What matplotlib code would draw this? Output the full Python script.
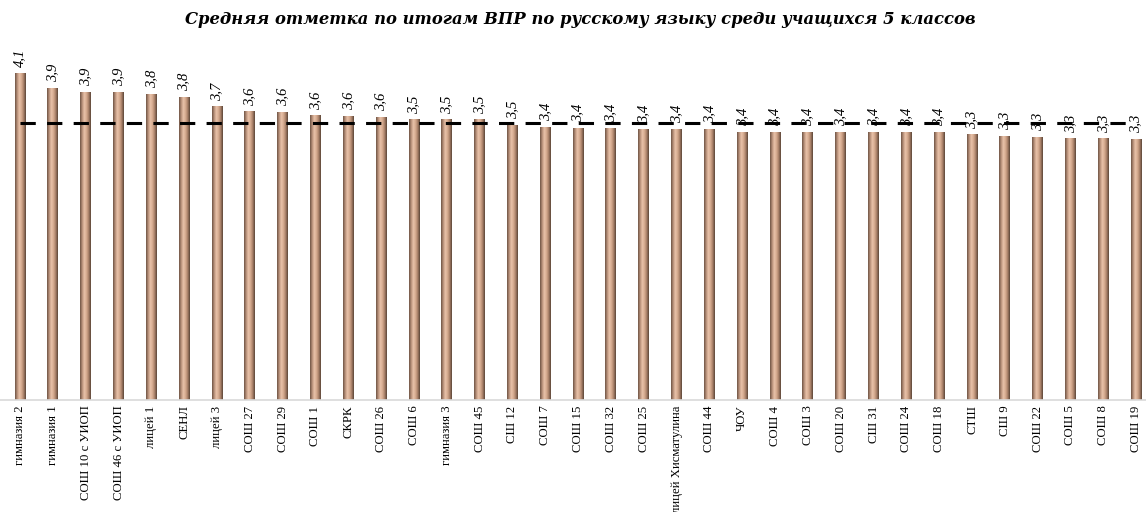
import numpy as np
import matplotlib
matplotlib.use("Agg")
from matplotlib import pyplot as plt
from matplotlib.colors import LinearSegmentedColormap

schools = ["гимназия 2", "гимназия 1", "СОШ 10 с УИОП", "СОШ 46 с УИОП", "лицей 1", "СЕНЛ",
           "лицей 3", "СОШ 27", "СОШ 29", "СОШ 1", "СКРК", "СОШ 26", "СОШ 6", "гимназия 3",
           "СОШ 45", "СШ 12", "СОШ 7", "СОШ 15", "СОШ 32", "СОШ 25", "лицей Хисматулина",
           "СОШ 44", "ЧОУ", "СОШ 4", "СОШ 3", "СОШ 20", "СШ 31", "СОШ 24", "СОШ 18", "СТШ",
           "СШ 9", "СОШ 22", "СОШ 5", "СОШ 8", "СОШ 19"]
scores = [4.10, 3.91, 3.86, 3.86, 3.84, 3.80, 3.68, 3.62, 3.61, 3.57, 3.56, 3.55, 3.52, 3.52,
          3.52, 3.45, 3.42, 3.41, 3.41, 3.40, 3.40, 3.40, 3.36, 3.36, 3.36, 3.36, 3.36, 3.36,
          3.36, 3.33, 3.31, 3.30, 3.28, 3.28, 3.27]
labels = ["4,1", "3,9", "3,9", "3,9", "3,8", "3,8", "3,7", "3,6", "3,6", "3,6", "3,6", "3,6",
          "3,5", "3,5", "3,5", "3,5", "3,4", "3,4", "3,4", "3,4", "3,4", "3,4", "3,4", "3,4",
          "3,4", "3,4", "3,4", "3,4", "3,4", "3,3", "3,3", "3,3", "3,3", "3,3", "3,3"]
city_avg = 3.47

serif = ["Liberation Serif", "DejaVu Serif"]
# cylinder-like shading across each bar
bar_cmap = LinearSegmentedColormap.from_list(
    "tan", ["#6e5444", "#b8907a", "#e9c3aa", "#d6ab8f", "#a88068", "#5a4538"])
grad = np.linspace(0, 1, 64)[np.newaxis, :]

fig = plt.figure(figsize=(11.46, 5.12), dpi=100)
ax = fig.add_axes([0, 0.21875, 1, 0.703])

x = np.arange(len(schools))
width = 0.33
bars = ax.bar(x, scores, width=width, color="none", edgecolor="none", zorder=2)
for rect in bars:
    x0, h = rect.get_x(), rect.get_height()
    im = ax.imshow(grad, extent=[x0, x0 + width, 0, h], aspect="auto", cmap=bar_cmap,
                   interpolation="bilinear", zorder=2)
    im.set_clip_path(rect)

ax.plot(x, np.full(len(x), city_avg), color="black", lw=2.2,
        linestyle=(0, (5, 3.7)), zorder=3)

for xi, v, lab in zip(x, scores, labels):
    ax.annotate(lab, (xi, v), xytext=(0, 4), textcoords="offset points",
                rotation=90, ha="center", va="bottom", fontsize=10.5,
                fontstyle="italic", family=serif, zorder=4)

ax.set_xlim(-0.61, 34.3)
ax.set_ylim(0, 4.51)
ax.set_xticks(x)
ax.set_xticklabels(schools, rotation=90, family=serif, fontsize=9.2)
ax.tick_params(axis="x", length=0, pad=4)
ax.set_yticks([])
for side in ["top", "left", "right"]:
    ax.spines[side].set_visible(False)
ax.spines["bottom"].set_color("#d9d9d9")
ax.spines["bottom"].set_linewidth(1.2)

fig.text(0.506, 0.962, "Средняя отметка по итогам ВПР по русскому языку среди учащихся 5 классов",
         ha="center", va="center", fontsize=11.8, fontweight="bold", fontstyle="italic",
         family=["DejaVu Serif"])

fig.savefig("out.png", dpi=100)
